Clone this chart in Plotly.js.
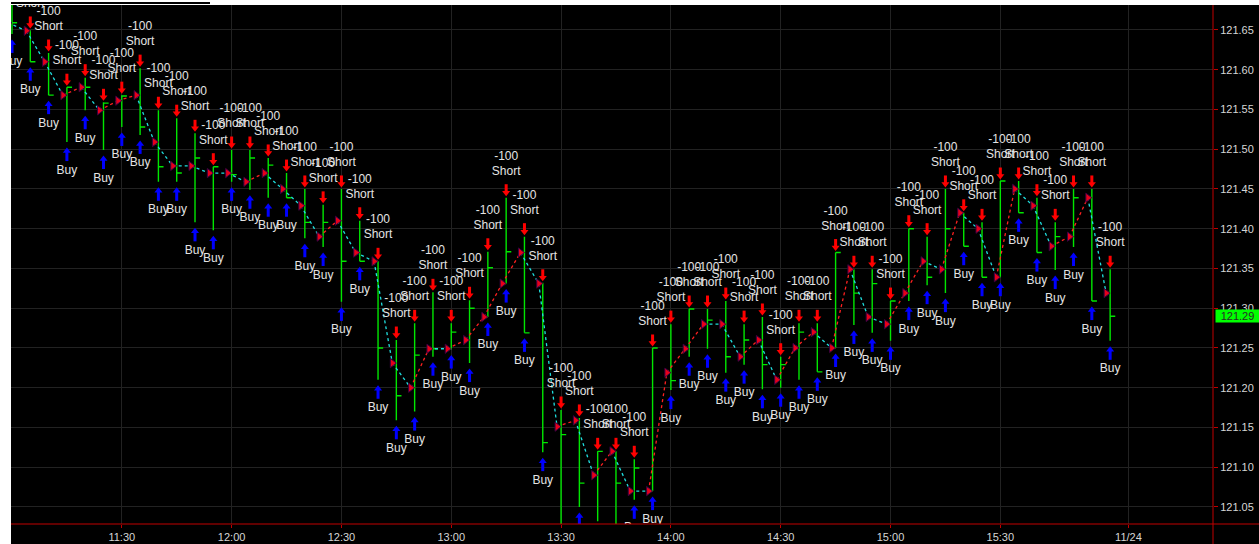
<!DOCTYPE html>
<html><head><meta charset="utf-8">
<script src="https://cdn.plot.ly/plotly-3.0.1.min.js"></script>
<style>html,body{margin:0;padding:0;background:#000;}#chart{width:1259px;height:544px;}</style>
</head><body><div id="chart"></div>
<script>
// ---- data (5-minute bars, 11/23) ----
const times = ['11:00','11:05','11:10','11:15','11:20','11:25','11:30','11:35','11:40','11:45',
  '11:50','11:55','12:00','12:05','12:10','12:15','12:20','12:25','12:30','12:35',
  '12:40','12:45','12:50','12:55','13:00','13:05','13:10','13:15','13:20','13:25',
  '13:30','13:35','13:40','13:45','13:50','13:55','14:00','14:05','14:10','14:15',
  '14:20','14:25','14:30','14:35','14:40','14:45','14:50','14:55','15:00','15:05',
  '15:10','15:15','15:20','15:25','15:30','15:35','15:40','15:45','15:50','15:55','16:00'];
const opens = [121.659,121.649,121.610,121.568,121.578,121.549,121.561,121.568,121.509,121.479,
  121.479,121.470,121.470,121.459,121.470,121.450,121.429,121.390,121.410,121.370,
  121.359,121.231,121.200,121.249,121.249,121.260,121.289,121.331,121.370,121.331,
  121.151,121.159,121.090,121.120,121.070,121.070,121.219,121.249,121.280,121.280,
  121.239,121.260,121.210,121.250,121.270,121.250,121.349,121.289,121.280,121.319,
  121.359,121.349,121.420,121.400,121.339,121.450,121.429,121.378,121.390,121.439,121.319];
const highs = [121.688,121.650,121.621,121.578,121.590,121.559,121.568,121.602,121.549,121.539,
  121.520,121.478,121.499,121.499,121.489,121.470,121.450,121.430,121.450,121.410,
  121.359,121.260,121.281,121.320,121.281,121.310,121.371,121.439,121.390,121.332,
  121.172,121.162,121.120,121.120,121.110,121.250,121.280,121.299,121.299,121.309,
  121.280,121.289,121.239,121.281,121.281,121.370,121.349,121.349,121.309,121.400,
  121.390,121.450,121.420,121.408,121.460,121.460,121.439,121.408,121.450,121.450,121.349];
const lows = [121.645,121.610,121.568,121.509,121.549,121.499,121.528,121.518,121.459,121.459,
  121.408,121.398,121.459,121.449,121.439,121.439,121.388,121.377,121.308,121.359,
  121.210,121.159,121.170,121.239,121.248,121.231,121.289,121.331,121.269,121.119,
  121.021,121.050,121.032,121.024,121.059,121.070,121.197,121.239,121.249,121.219,
  121.229,121.198,121.200,121.210,121.220,121.250,121.279,121.269,121.259,121.309,
  121.329,121.319,121.378,121.339,121.339,121.420,121.370,121.348,121.377,121.309,121.259];
const closes = [121.659,121.610,121.568,121.578,121.578,121.558,121.567,121.528,121.478,121.470,
  121.489,121.478,121.468,121.489,121.480,121.439,121.408,121.408,121.359,121.359,
  121.250,121.190,121.241,121.249,121.270,121.300,121.351,121.371,121.269,121.131,
  121.141,121.080,121.120,121.080,121.099,121.250,121.209,121.299,121.285,121.239,
  121.260,121.229,121.229,121.270,121.220,121.370,121.319,121.331,121.309,121.400,
  121.339,121.400,121.378,121.339,121.460,121.420,121.370,121.390,121.439,121.309,121.290];
const shortQty = '-100';
const shortLabel = 'Short';
const buyLabel = 'Buy';
const xTickTimes = ['11:30','12:00','12:30','13:00','13:30','14:00','14:30','15:00','15:30','16:05'];
const xTickText = ['11:30','12:00','12:30','13:00','13:30','14:00','14:30','15:00','15:30','11/24'];
const lastPrice = 121.29;

// ---- geometry / style ----
const W = 1259, H = 544, ML = 11, MR = 46, MT = 5, MB = 20;
const PW = W - ML - MR, PH = H - MT - MB;
const XR = [659.73, 988.1], YR = [121.0286, 121.6814];
const kx = (XR[1] - XR[0]) / PW, ky = (YR[1] - YR[0]) / PH;
const toMin = s => { const p = s.split(':'); return (+p[0]) * 60 + (+p[1]); };
const xs = times.map(toMin);
const GREEN = '#00e600', RED = '#ff0000', BLUE = '#0000ff', TXT = '#e4e4e4';
const FONT = 'Liberation Sans, Arial, sans-serif';

const traces = [];
traces.push({type: 'ohlc', x: xs, open: opens, high: highs, low: lows, close: closes,
  increasing: {line: {color: GREEN, width: 1.4}}, decreasing: {line: {color: GREEN, width: 1.4}},
  tickwidth: 0.28, hoverinfo: 'skip'});

// trade path (entries at bar open), red when next fill is higher, cyan otherwise
const tx = xs.map(v => v - 4 * kx);
const rX = [], rY = [], cX = [], cY = [];
for (let i = 0; i < opens.length - 1; i++) {
  const up = opens[i + 1] > opens[i];
  const X = up ? rX : cX, Y = up ? rY : cY;
  X.push(tx[i], tx[i + 1], null); Y.push(opens[i], opens[i + 1], null);
}
traces.push({type: 'scatter', mode: 'lines', x: rX, y: rY, line: {color: '#ff2020', width: 1.3, dash: '3px,3px'}, hoverinfo: 'skip'});
traces.push({type: 'scatter', mode: 'lines', x: cX, y: cY, line: {color: '#20dede', width: 1.3, dash: '3px,3px'}, hoverinfo: 'skip'});
traces.push({type: 'scatter', mode: 'markers', x: tx, y: opens,
  marker: {symbol: 'triangle-right', size: 8, color: '#e8001a', line: {color: '#3a0040', width: 1}}, hoverinfo: 'skip'});

// short signal arrows (above high) and buy arrows (below low)
const sX = [], sY = [], bX = [], bY = [];
xs.forEach((x, i) => {
  sX.push(x, x, null); sY.push(highs[i] + 6 * ky, highs[i] + 13.5 * ky, null);
  bX.push(x, x, null); bY.push(lows[i] - 10 * ky, lows[i] - 19 * ky, null);
});
traces.push({type: 'scatter', mode: 'lines', x: sX, y: sY, line: {color: RED, width: 3}, hoverinfo: 'skip'});
traces.push({type: 'scatter', mode: 'markers', x: xs, y: highs.map(h => h + 5 * ky),
  marker: {symbol: 'triangle-down', size: 7, color: RED, line: {width: 0}}, hoverinfo: 'skip'});
traces.push({type: 'scatter', mode: 'lines', x: bX, y: bY, line: {color: BLUE, width: 3}, hoverinfo: 'skip'});
traces.push({type: 'scatter', mode: 'markers', x: xs, y: lows.map(l => l - 9 * ky),
  marker: {symbol: 'triangle-up', size: 7, color: BLUE, line: {width: 0}}, hoverinfo: 'skip'});

// labels
const tf = {family: FONT, size: 12, color: TXT};
traces.push({type: 'scatter', mode: 'text', x: xs, y: highs.map(h => h + 41 * ky), text: xs.map(() => shortQty),
  textposition: 'middle center', textfont: tf, hoverinfo: 'skip'});
traces.push({type: 'scatter', mode: 'text', x: xs, y: highs.map(h => h + 26 * ky), text: xs.map(() => shortLabel),
  textposition: 'middle center', textfont: tf, hoverinfo: 'skip'});
traces.push({type: 'scatter', mode: 'text', x: xs, y: lows.map(l => l - 28.5 * ky), text: xs.map(() => buyLabel),
  textposition: 'middle center', textfont: tf, hoverinfo: 'skip'});

const px2fx = p => p / PW, px2fy = p => p / PH;
const layout = {
  width: W, height: H, margin: {l: ML, r: MR, t: MT, b: MB, pad: 0},
  paper_bgcolor: '#000000', plot_bgcolor: '#000000', showlegend: false, hovermode: false,
  font: {family: FONT, size: 11, color: '#d6d6d6'},
  xaxis: {type: 'linear', range: XR, rangeslider: {visible: false}, tickmode: 'array',
    tickvals: xTickTimes.map(toMin), ticktext: xTickText, ticks: 'outside', ticklen: 3, tickcolor: '#c00000',
    showgrid: true, gridcolor: '#222222', gridwidth: 1, zeroline: false, showline: false,
    tickfont: {family: FONT, size: 11, color: '#d6d6d6'}, fixedrange: true},
  yaxis: {side: 'right', range: YR, tick0: 121.05, dtick: 0.05, tickformat: '.2f', ticks: 'outside', ticklen: 4,
    tickcolor: '#c00000', showgrid: true, gridcolor: '#222222', gridwidth: 1, zeroline: false, showline: false,
    tickfont: {family: FONT, size: 11, color: '#d6d6d6'}, fixedrange: true},
  shapes: [
    {type: 'rect', xref: 'paper', yref: 'paper', x0: -px2fx(ML), x1: 0, y0: -px2fy(MB), y1: 1 + px2fy(MT), fillcolor: '#ffffff', line: {width: 0}},
    {type: 'rect', xref: 'paper', yref: 'paper', x0: -px2fx(ML), x1: 1 + px2fx(MR), y0: 1, y1: 1 + px2fy(MT), fillcolor: '#ffffff', line: {width: 0}},
    {type: 'line', xref: 'paper', yref: 'paper', x0: 0, x1: px2fx(199), y0: 1 + px2fy(2), y1: 1 + px2fy(2), line: {color: '#000000', width: 2}},
    {type: 'line', xref: 'paper', yref: 'paper', x0: 0, x1: 1 + px2fx(MR), y0: 0, y1: 0, line: {color: '#c00000', width: 1}},
    {type: 'line', xref: 'paper', yref: 'paper', x0: 1, x1: 1, y0: -px2fy(MB), y1: 1, line: {color: '#c00000', width: 1}}
  ],
  annotations: [
    {xref: 'paper', yref: 'y', x: 1 + px2fx(2), y: lastPrice, xanchor: 'left', yanchor: 'middle',
      text: lastPrice.toFixed(2), showarrow: false, bgcolor: '#00ff00', width: 43, height: 12, borderpad: 0,
      font: {family: FONT, size: 11, color: '#2a2a2a'}}
  ]
};
Plotly.newPlot('chart', traces, layout, {staticPlot: true, displayModeBar: false});
</script></body></html>
